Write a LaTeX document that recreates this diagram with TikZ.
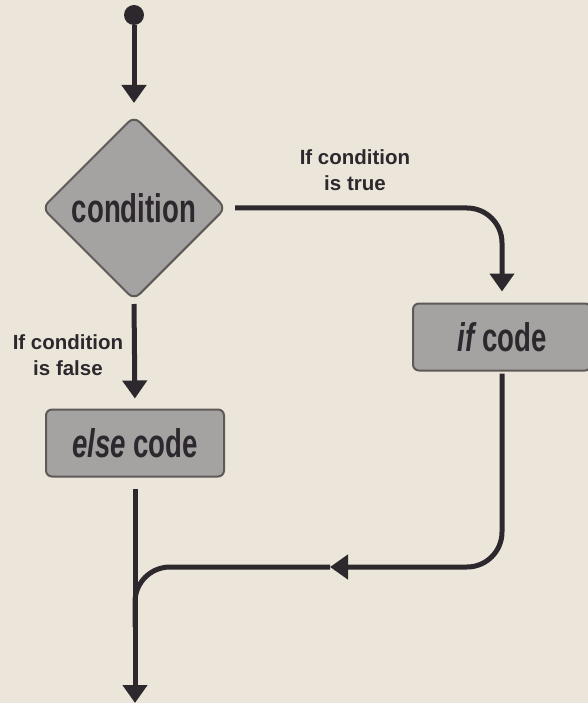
\documentclass[tikz,border=0pt]{standalone}
\usepackage{fontspec}
\setmainfont{Liberation Sans}
\newfontfamily\condfont[FakeStretch=0.69]{Liberation Sans}
\usetikzlibrary{arrows.meta,shapes.geometric}
\definecolor{paper}{RGB}{236,229,217}
\definecolor{ink}{RGB}{45,40,45}
\definecolor{boxGray}{RGB}{165,162,162}
\definecolor{boxEdge}{RGB}{95,90,90}
\tikzset{
    every node/.append style={align=center},
    box/.style={rectangle,draw=boxEdge,line width=2pt,fill=boxGray,rounded corners=6pt,
        minimum width=178pt,minimum height=67pt,inner sep=0pt,text=ink,
        font=\condfont\bfseries\fontsize{40}{40}\selectfont},
    gate/.style={diamond,draw=boxEdge,line width=2pt,fill=boxGray,rounded corners=8pt,
        aspect=1,minimum width=184pt,minimum height=184pt,inner sep=0pt,text=ink,
        font=\condfont\bfseries\fontsize{40}{40}\selectfont},
    arr/.style={-{Triangle[length=18pt,width=24pt]},line width=5pt,draw=ink},
    wire/.style={line width=5pt,draw=ink},
    lbl/.style={font=\bfseries\fontsize{20.5}{26}\selectfont,text=ink}
}
\begin{document}
\begin{tikzpicture}[x=1pt,y=-1pt]
    \fill[paper] (0,0) rectangle (588,703);
    \useasboundingbox (0,0) rectangle (588,703);

    % decision and the two branches
    \node[circle,fill=ink,minimum size=20pt,inner sep=0pt] (start) at (134,15) {};
    \node[gate] (cond) at (134,208) {condition};
    \node[box]  (ifc)  at (502,337) {\itshape if\upshape\ code};
    \node[box,minimum width=178pt] (els) at (135,443) {\itshape else\upshape\ code};
    \node[lbl]  (tlbl) at (355,170) {If condition\\is true};
    \node[lbl]  (flbl) at (68,355) {If condition\\is false};
    \coordinate (join)  at (330,567);
    \coordinate (merge) at (135,567);
    \coordinate (exit)  at (135,703);

    \draw[arr,shorten >=12pt] (start) -- (cond);
    \draw[arr,rounded corners=35pt] ([xshift=8pt]cond.east) -| ([yshift=11pt]ifc.north);
    \draw[arr,shorten <=3pt,shorten >=10pt] (cond.south) -- (els.north);
    \draw[arr] ([yshift=-11pt]els.south) -- (exit);
    \draw[arr,rounded corners=35pt] ([yshift=-2pt]ifc.south) |- (join);
    \draw[wire,rounded corners=35pt] (join) -- (merge) -- ++(0,60);
\end{tikzpicture}
\end{document}
